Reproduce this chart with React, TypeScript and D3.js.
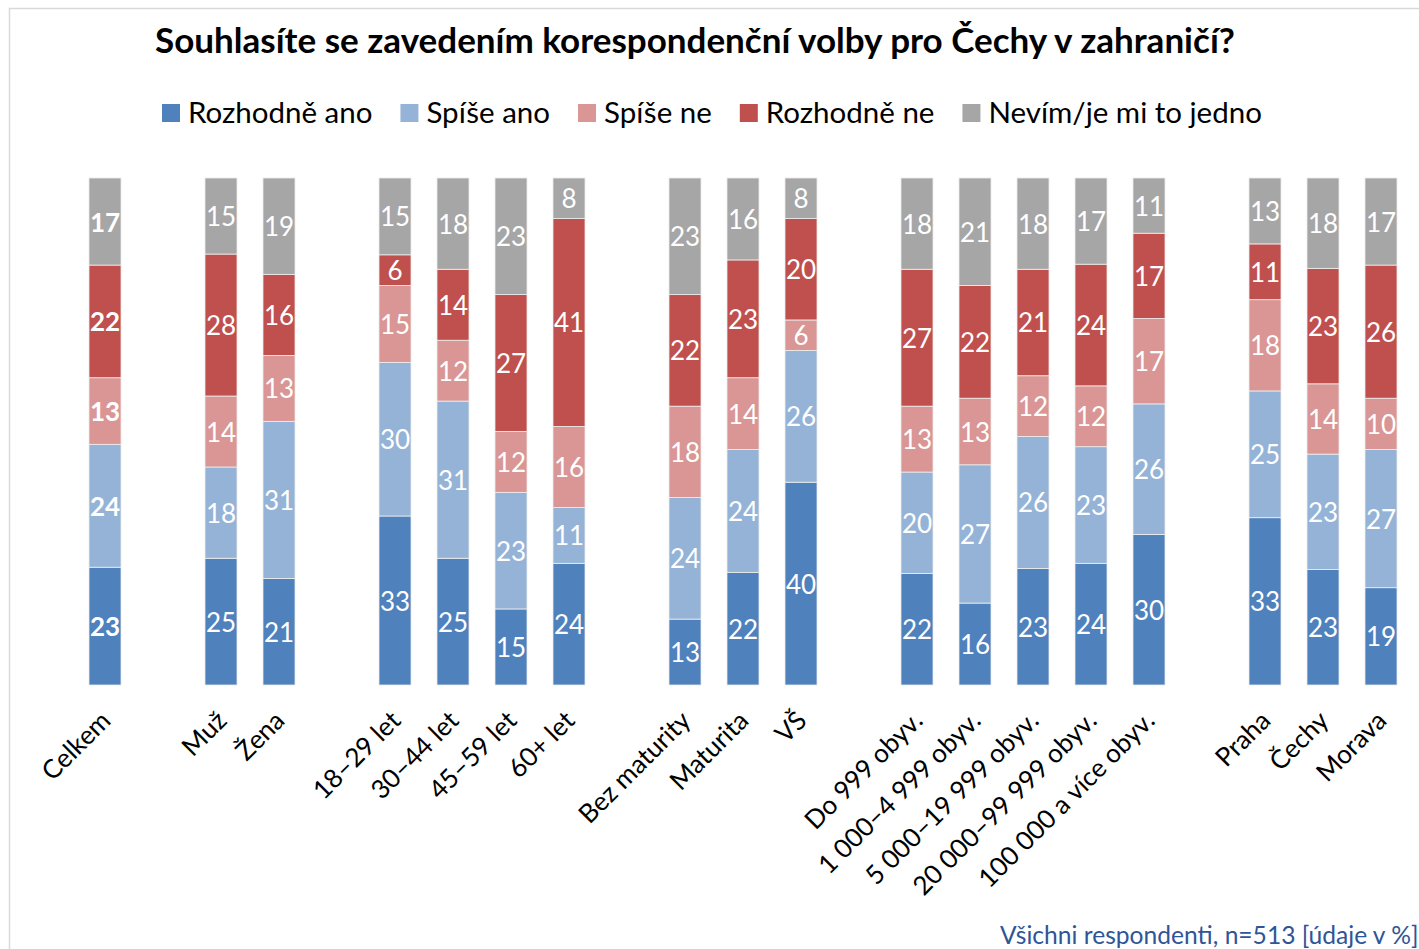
import React, { useEffect, useRef } from "react"
import * as d3 from "d3"

const groups = [
  ["Celkem"],
  ["Muž", "Žena"],
  ["18–29 let", "30–44 let", "45–59 let", "60+ let"],
  ["Bez maturity", "Maturita", "VŠ"],
  ["Do 999 obyv.", "1 000–4 999 obyv.", "5 000–19 999 obyv.", "20 000–99 999 obyv.", "100 000 a více obyv."],
  ["Praha", "Čechy", "Morava"],
]

const seriesNames = ["Rozhodně ano", "Spíše ano", "Spíše ne", "Rozhodně ne", "Nevím/je mi to jedno"]
const colors = ["#4f81bd", "#95b3d7", "#d99694", "#c0504d", "#a6a6a6"]

const rozhodneAno = [23, 25, 21, 33, 25, 15, 24, 13, 22, 40, 22, 16, 23, 24, 30, 33, 23, 19]
const spiseAno = [24, 18, 31, 30, 31, 23, 11, 24, 24, 26, 20, 27, 26, 23, 26, 25, 23, 27]
const spiseNe = [13, 14, 13, 15, 12, 12, 16, 18, 14, 6, 13, 13, 12, 12, 17, 18, 14, 10]
const rozhodneNe = [22, 28, 16, 6, 14, 27, 41, 22, 23, 20, 27, 22, 21, 24, 17, 11, 23, 26]
const nevim = [17, 15, 19, 15, 18, 23, 8, 23, 16, 8, 18, 21, 18, 17, 11, 13, 18, 17]

const title = "Souhlasíte se zavedením korespondenční volby pro Čechy v zahraničí?"
const note = "Všichni respondenti, n=513 [údaje v %]"

const W = 1419
const H = 949
const font = "Lato, 'Open Sans', sans-serif"

const App = () => {
  const ref = useRef<SVGSVGElement>(null)

  useEffect(() => {
    const svg = d3.select(ref.current)
    svg.selectAll("*").remove()

    const categories = groups.flat()
    const slots: string[] = []
    groups.forEach((g, i) => {
      if (i > 0) slots.push("gap" + i)
      slots.push(...g)
    })

    const rows = categories.map((c, i) => ({
      cat: c,
      [seriesNames[0]]: rozhodneAno[i],
      [seriesNames[1]]: spiseAno[i],
      [seriesNames[2]]: spiseNe[i],
      [seriesNames[3]]: rozhodneNe[i],
      [seriesNames[4]]: nevim[i],
    }))

    const stacked = d3.stack<any>().keys(seriesNames).offset(d3.stackOffsetExpand)(rows)

    const x = d3.scaleBand().domain(slots).range([76, 1410]).paddingInner(0.448).paddingOuter(0.224)
    const y = d3.scaleLinear().domain([0, 1]).range([685, 178])

    // chart frame
    svg.append("rect")
      .attr("x", 9.5).attr("y", 8.5).attr("width", 1600).attr("height", 1200)
      .attr("fill", "#fff").attr("stroke", "#d9d9d9").attr("stroke-width", 1.5)

    svg.append("text")
      .attr("x", 695).attr("y", 53)
      .attr("text-anchor", "middle")
      .attr("font-family", font).attr("font-weight", 700).attr("font-size", 35)
      .attr("fill", "#000")
      .text(title)

    // legend
    const legend = svg.append("g")
    let lx = 162
    seriesNames.forEach((s, i) => {
      legend.append("rect").attr("x", lx).attr("y", 104).attr("width", 18).attr("height", 18).attr("fill", colors[i])
      const t = legend.append("text")
        .attr("x", lx + 26).attr("y", 123)
        .attr("font-family", font).attr("font-size", 29.5).attr("fill", "#000")
        .text(s)
      const w = (t.node() as SVGTextElement).getComputedTextLength()
      lx += 26 + w + 28
    })

    // bars
    stacked.forEach((layer, li) => {
      const g = svg.append("g")
      layer.forEach((d, i) => {
        const cat = categories[i]
        const bold = cat === "Celkem"
        g.append("rect")
          .attr("x", x(cat)!)
          .attr("y", y(d[1]))
          .attr("width", x.bandwidth())
          .attr("height", y(d[0]) - y(d[1]))
          .attr("fill", colors[li])
          .attr("stroke", "#eeeeee").attr("stroke-width", 0.8)
        g.append("text")
          .attr("x", x(cat)! + x.bandwidth() / 2)
          .attr("y", (y(d[0]) + y(d[1])) / 2)
          .attr("text-anchor", "middle").attr("dominant-baseline", "central")
          .attr("font-family", font).attr("font-size", 26)
          .attr("font-weight", bold ? 700 : 400)
          .attr("fill", "#fff")
          .text((d.data as any)[seriesNames[li]])
      })
    })

    // category labels
    categories.forEach((c) => {
      const cx = x(c)! + x.bandwidth() / 2
      svg.append("text")
        .attr("transform", `translate(${cx - 6},${709}) rotate(-45)`)
        .attr("text-anchor", "end").attr("dy", "0.72em")
        .attr("font-family", font).attr("font-size", 26).attr("fill", "#000")
        .text(c)
    })

    svg.append("text")
      .attr("x", 1000).attr("y", 944)
      .attr("font-family", font).attr("font-size", 24.6).attr("fill", "#2f5597")
      .text(note)
  }, [])

  return (
    <svg
      ref={ref}
      width={W}
      height={H}
      style={{ position: "absolute", left: 0, top: 0, display: "block" }}
    />
  )
}

export default App
